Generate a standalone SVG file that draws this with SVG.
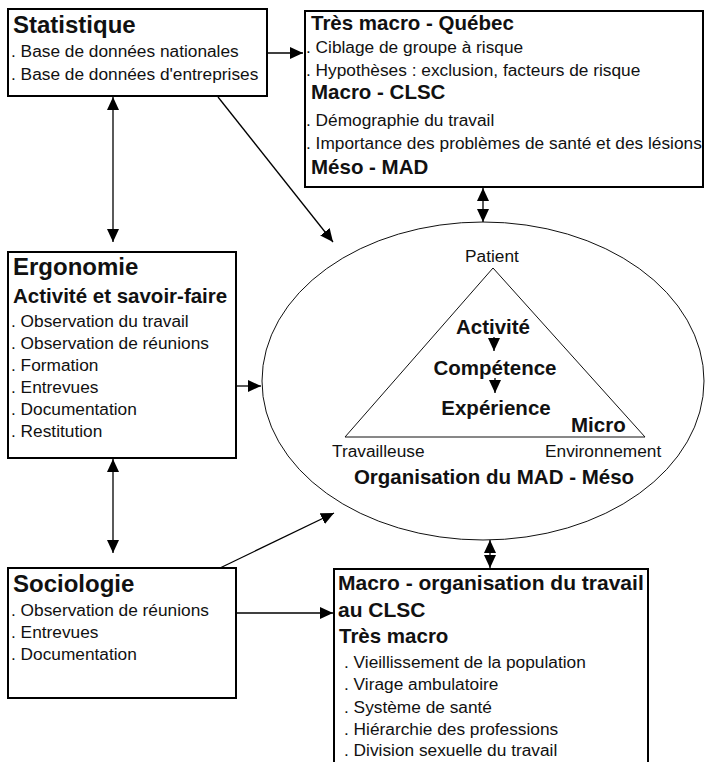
<svg xmlns="http://www.w3.org/2000/svg" width="705" height="762" viewBox="0 0 705 762">
<style>
.box{fill:#fff;stroke:#000;stroke-width:2}
.t{font-family:"Liberation Sans",Arial,sans-serif;fill:#111}
.h1{font-size:24px;font-weight:bold}
.h2{font-size:20.5px;font-weight:bold}
.it{font-size:17.3px}
.c{stroke:#000;stroke-width:1.3;fill:none}
.thin{stroke:#111;stroke-width:1;fill:none}
</style>
<defs>
<marker id="ah" viewBox="0 0 13 12" refX="13" refY="6" markerWidth="13" markerHeight="12" markerUnits="userSpaceOnUse" orient="auto-start-reverse">
<path d="M0,0 L13,6 L0,12 z" fill="#000"/>
</marker>
</defs>
<rect width="705" height="762" fill="#fff"/>

<g id="statistique">
<rect class="box" x="8" y="9" width="259" height="87"/>
<text class="t h1" x="13" y="33">Statistique</text>
<text class="t it" x="11" y="57">. Base de données nationales</text>
<text class="t it" x="11" y="80">. Base de données d'entreprises</text>
</g>

<g id="niveaux">
<rect class="box" x="305" y="11" width="398" height="176"/>
<text class="t h2" x="311" y="30">Très macro - Québec</text>
<text class="t it" x="306" y="53">. Ciblage de groupe à risque</text>
<text class="t it" x="306" y="76">. Hypothèses : exclusion, facteurs de risque</text>
<text class="t h2" x="311" y="99">Macro - CLSC</text>
<text class="t it" x="306" y="126">. Démographie du travail</text>
<text class="t it" x="306" y="149">. Importance des problèmes de santé et des lésions</text>
<text class="t h2" x="311" y="174">Méso - MAD</text>
</g>

<g id="ergonomie">
<rect class="box" x="8" y="252" width="228" height="206"/>
<text class="t h1" x="13" y="275">Ergonomie</text>
<text class="t h2" x="13" y="303">Activité et savoir-faire</text>
<text class="t it" x="11" y="327">. Observation du travail</text>
<text class="t it" x="11" y="349">. Observation de réunions</text>
<text class="t it" x="11" y="371">. Formation</text>
<text class="t it" x="11" y="393">. Entrevues</text>
<text class="t it" x="11" y="415">. Documentation</text>
<text class="t it" x="11" y="437">. Restitution</text>
</g>

<g id="organisation">
<ellipse class="thin" cx="483" cy="381" rx="221" ry="159"/>
<polygon class="thin" points="493,268 345,437 645,437"/>
<text class="t it" x="492" y="262" text-anchor="middle">Patient</text>
<text class="t h2" x="493" y="334" text-anchor="middle">Activité</text>
<text class="t h2" x="495" y="375" text-anchor="middle">Compétence</text>
<text class="t h2" x="496" y="415" text-anchor="middle">Expérience</text>
<text class="t h2" x="571" y="432">Micro</text>
<text class="t it" x="332" y="457">Travailleuse</text>
<text class="t it" x="545" y="457">Environnement</text>
<text class="t h2" x="494" y="484" text-anchor="middle">Organisation du MAD - Méso</text>
</g>

<g id="sociologie">
<rect class="box" x="8" y="568" width="228" height="130"/>
<text class="t h1" x="13" y="592">Sociologie</text>
<text class="t it" x="11" y="616">. Observation de réunions</text>
<text class="t it" x="11" y="638">. Entrevues</text>
<text class="t it" x="11" y="660">. Documentation</text>
</g>

<g id="macro">
<rect class="box" x="334" y="569" width="314" height="200"/>
<text class="t h2" x="338" y="590" style="font-size:21px">Macro - organisation du travail</text>
<text class="t h2" x="338" y="617" style="font-size:21px">au CLSC</text>
<text class="t h2" x="339" y="643">Très macro</text>
<text class="t it" x="344" y="668">. Vieillissement de la population</text>
<text class="t it" x="344" y="690">. Virage ambulatoire</text>
<text class="t it" x="344" y="713">. Système de santé</text>
<text class="t it" x="344" y="735">. Hiérarchie des professions</text>
<text class="t it" x="344" y="756">. Division sexuelle du travail</text>
</g>

<g id="connectors">
<line class="c" x1="267" y1="53" x2="303" y2="53" marker-end="url(#ah)"/>
<line class="c" x1="113" y1="97" x2="113" y2="242" marker-start="url(#ah)" marker-end="url(#ah)"/>
<line class="c" x1="218" y1="97" x2="333" y2="242" marker-end="url(#ah)"/>
<line class="c" x1="483" y1="188" x2="483" y2="205" marker-start="url(#ah)"/>
<line class="c" x1="483" y1="205" x2="483" y2="222" marker-end="url(#ah)"/>
<line class="c" x1="236" y1="386" x2="261" y2="386" marker-end="url(#ah)"/>
<line class="c" x1="494" y1="337" x2="494" y2="351" marker-end="url(#ah)"/>
<line class="c" x1="495" y1="378" x2="495" y2="393" marker-end="url(#ah)"/>
<line class="c" x1="113" y1="459" x2="113" y2="553" marker-start="url(#ah)" marker-end="url(#ah)"/>
<line class="c" x1="220" y1="568" x2="334" y2="513" marker-end="url(#ah)"/>
<line class="c" x1="236" y1="613" x2="333" y2="613" marker-end="url(#ah)"/>
<line class="c" x1="490" y1="540" x2="490" y2="554" marker-start="url(#ah)"/>
<line class="c" x1="490" y1="554" x2="490" y2="568" marker-end="url(#ah)"/>
</g>
</svg>
